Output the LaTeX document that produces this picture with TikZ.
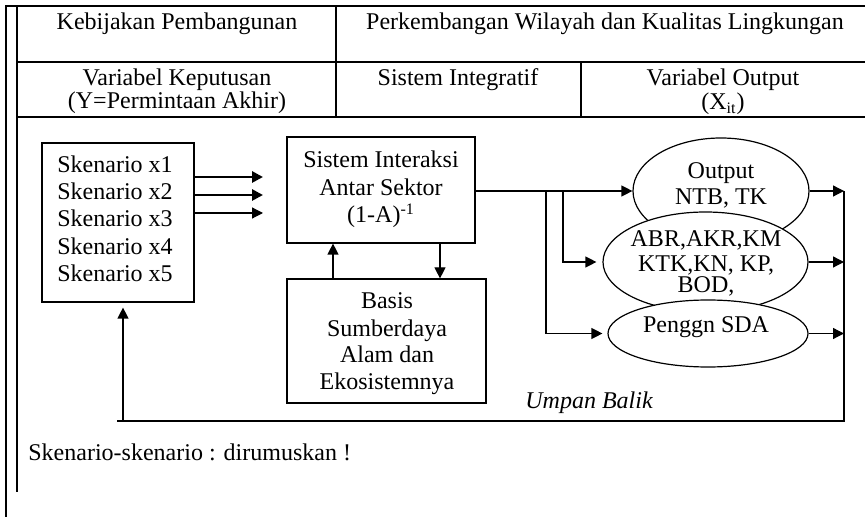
\documentclass[tikz,border=0pt]{standalone}
\usepackage{fontspec}
\setmainfont{Liberation Serif}
\usetikzlibrary{arrows.meta,shapes.geometric}
\begin{document}
\begin{tikzpicture}[x=0.5pt,y=-0.5pt,
  font=\fontsize{12}{14}\selectfont,
  thin line/.style={line width=0.6pt},
  thick line/.style={line width=1.2pt},
  arr/.style={line width=0.6pt,-{Triangle[length=5.5pt,width=5.5pt]}},
  arrthick/.style={line width=1.4pt,-{Triangle[length=5.5pt,width=5.5pt]}},
  txt/.style={anchor=base,inner sep=0pt},
  boxnode/.style={draw,line width=0.6pt,inner sep=0pt},
  ellnode/.style={draw,ellipse,fill=white,line width=0.6pt,inner sep=0pt}]
\useasboundingbox (0,0) rectangle (865,517);
% ---- table frame ----
\coordinate (tl) at (6,6);
\coordinate (tr) at (865,6);
\coordinate (bl) at (6,517);
\coordinate (il) at (17,6);
\coordinate (ib) at (17,492);
\draw[thick line] (tr) -- (tl) -- (bl);
\draw[thin line] (il) -- (ib);
\coordinate (r1l) at (17,62);
\coordinate (r1r) at (865,62);
\coordinate (r2l) at (17,117);
\coordinate (r2r) at (865,117);
\draw[thin line] (r1l) -- (r1r);
\draw[thin line] (r2l) -- (r2r);
\coordinate (c1t) at (336,6);
\coordinate (c1b) at (336,117);
\coordinate (c2t) at (581,62);
\coordinate (c2b) at (581,117);
\draw[thin line] (c1t) -- (c1b);
\draw[thin line] (c2t) -- (c2b);
% ---- table texts ----
\node[txt] (h1) at (177,30) {Kebijakan Pembangunan};
\node[txt] (h2) at (605,30) {Perkembangan Wilayah dan Kualitas Lingkungan};
\node[txt] (h3a) at (177,86) {Variabel Keputusan};
\node[txt] (h3b) at (177,109) {(Y=Permintaan Akhir)};
\node[txt] (h4) at (458,86) {Sistem Integratif};
\node[txt] (h5a) at (723,86) {Variabel Output};
\node[txt] (h5b) at (723,110) {(X\textsubscript{it})};
% ---- boxes ----
\node[boxnode,minimum width=76pt,minimum height=79.5pt] (sk) at (118,222.5) {};
\node[txt,anchor=base west] (sk1) at (57,173) {Skenario x1};
\node[txt,anchor=base west] (sk2) at (57,200) {Skenario x2};
\node[txt,anchor=base west] (sk3) at (57,227) {Skenario x3};
\node[txt,anchor=base west] (sk4) at (57,255) {Skenario x4};
\node[txt,anchor=base west] (sk5) at (57,282) {Skenario x5};
\node[boxnode,minimum width=94pt,minimum height=53pt] (inter) at (381,190) {};
\node[txt] (in1) at (381,168) {Sistem Interaksi};
\node[txt] (in2) at (381,196) {Antar Sektor};
\node[txt] (in3) at (381,223) {(1-A)\textsuperscript{-1}};
\node[boxnode,minimum width=99.5pt,minimum height=62pt] (basis) at (386.5,341) {};
\node[txt] (b1) at (387,309) {Basis};
\node[txt] (b2) at (387,336) {Sumberdaya};
\node[txt] (b3) at (387,363) {Alam dan};
\node[txt] (b4) at (387,389) {Ekosistemnya};
% ---- ellipses ----
\node[ellnode,minimum width=88pt,minimum height=53pt] (e1) at (721,191) {};
\node[txt] (e1a) at (721,179) {Output};
\node[txt] (e1b) at (721,205) {NTB, TK};
\node[ellnode,minimum width=102.5pt,minimum height=50pt] (e2) at (705.5,262) {};
\node[txt] (e2a) at (706,247) {ABR,AKR,KM};
\node[txt] (e2b) at (706,272) {KTK,KN, KP,};
\node[txt] (e2c) at (706,293) {BOD,};
\node[ellnode,minimum width=100pt,minimum height=33.5pt] (e3) at (708,333.5) {};
\node[txt] (e3a) at (706,333) {Penggn SDA};
% ---- connectors ----
\coordinate (sktip) at (263,0);
\draw[arrthick] (sk.east |- 0,177) -- (sktip |- 0,177);
\draw[arrthick] (sk.east |- 0,195) -- (sktip |- 0,195);
\draw[arr] (sk.east |- 0,213) -- (sktip |- 0,213);
\coordinate (upx) at (333,0);
\coordinate (dnx) at (440,0);
\draw[arr] (basis.north -| upx) -- (inter.south -| upx);
\draw[arr] (inter.south -| dnx) -- (basis.north -| dnx);
\coordinate (brA) at (546,191);
\coordinate (brB) at (563,191);
\draw[arr] (inter.east |- e1.west) -- (e1.west);
\draw[thin line,-{Triangle[length=5.5pt,width=5.5pt]}] (brB) |- ([xshift=-3pt]e2.west);
\draw[thin line,-{Triangle[length=5.5pt,width=5.5pt]}] (brA) |- ([xshift=-2.5pt]e3.west);
\coordinate (rtop) at (844,191);
\coordinate (rbot) at (844,421);
\coordinate (lbot) at (123,421);
\coordinate (lstart) at (117,421);
\draw[arr] (e1.east) -- (e1.east -| rtop);
\draw[arr] (e2.east) -- (e2.east -| rtop);
\draw[arr] (e3.east) -- (e3.east -| rtop);
\draw[thin line] (rtop) -- (rbot) -- (lstart);
\draw[arr] (lbot) -- ([yshift=-2.5pt]lbot |- sk.south);
\node[txt,font=\fontsize{12}{14}\selectfont\itshape] (ub) at (589,408) {Umpan Balik};
\node[txt,anchor=base west] (note) at (28,460) {Skenario-skenario : dirumuskan !};
\end{tikzpicture}
\end{document}
